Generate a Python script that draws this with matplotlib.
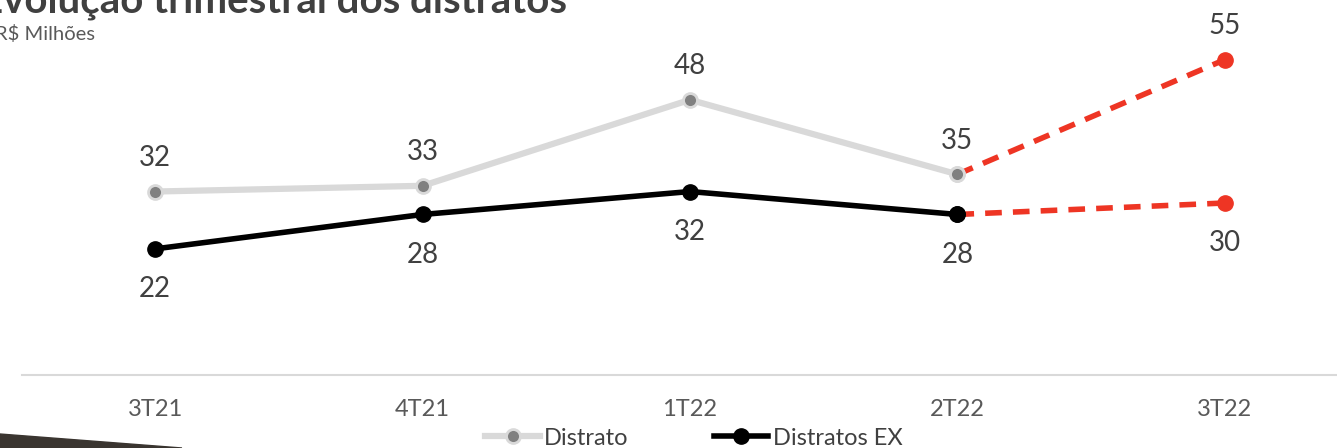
import matplotlib
matplotlib.use('Agg')
import matplotlib.pyplot as plt
from matplotlib.lines import Line2D
from matplotlib.patches import Polygon

plt.rcParams['font.family'] = ['Lato', 'DejaVu Sans']

quarters = ['3T21', '4T21', '1T22', '2T22', '3T22']
distrato = [32, 33, 48, 35, 55]
distrato_ex = [22, 28, 32, 28, 30]

GRAY_LINE = '#d9d9d9'
GRAY_MARK = '#808080'
RED = '#ee3524'
TXT = '#404040'

W, H = 1337, 448
fig = plt.figure(figsize=(W / 100, H / 100), dpi=100)
ax = fig.add_axes([21.5 / W, (H - 375) / H, 1337 / W, 344 / H])

x = list(range(len(quarters)))

# actual part
ax.plot(x[:4], distrato[:4], color=GRAY_LINE, lw=4.5, marker='o', ms=10,
        mfc=GRAY_MARK, mec=GRAY_LINE, mew=2, zorder=3)
ax.plot(x[:4], distrato_ex[:4], color='black', lw=4, marker='o', ms=11,
        mfc='black', mec='black', zorder=3)
# forecast part
ax.plot(x[3:], distrato[3:], color=RED, lw=4, ls=(0, (3, 2)), zorder=2)
ax.plot(x[3:], distrato_ex[3:], color=RED, lw=4, ls=(0, (3, 2)), zorder=2)
ax.plot(x[4], distrato[4], 'o', color=RED, ms=11, zorder=3)
ax.plot(x[4], distrato_ex[4], 'o', color=RED, ms=11, zorder=3)
# re-draw 2T22 markers over the red line
ax.plot(x[3], distrato[3], 'o', ms=10, mfc=GRAY_MARK, mec=GRAY_LINE, mew=2, zorder=4)
ax.plot(x[3], distrato_ex[3], 'o', ms=11, color='black', zorder=4)

for i in x:
    ax.annotate(f'{distrato[i]}', (i, distrato[i]), xytext=(0, 24), textcoords='offset points',
                ha='center', va='center', fontsize=20, color=TXT)
    ax.annotate(f'{distrato_ex[i]}', (i, distrato_ex[i]), xytext=(0, -29), textcoords='offset points',
                ha='center', va='center', fontsize=20, color=TXT)

ax.set_xlim(-0.5, 4.5)
ax.set_ylim(0, 60)
ax.set_xticks(x)
ax.set_xticklabels(quarters, fontsize=17, color='#595959')
ax.tick_params(axis='x', length=0, pad=17)
ax.set_yticks([])
for s in ['top', 'left', 'right']:
    ax.spines[s].set_visible(False)
ax.spines['bottom'].set_color(GRAY_LINE)
ax.spines['bottom'].set_linewidth(1.5)

handles = [
    Line2D([], [], color=GRAY_LINE, lw=4.5, marker='o', ms=10, mfc=GRAY_MARK, mec=GRAY_LINE, mew=2),
    Line2D([], [], color='black', lw=4, marker='o', ms=11),
]
leg = fig.legend(handles, ['Distrato', 'Distratos EX'], loc='center',
                 bbox_to_anchor=(694 / W, 1 - 438 / H), ncol=2, frameon=False,
                 fontsize=17, handlelength=2.3, handletextpad=0.2, columnspacing=3.6,
                 borderpad=0)
for t in leg.get_texts():
    t.set_color(TXT)

fig.text(-20 / W, 1 - 13 / H, 'Evolução trimestral dos distratos', fontsize=29,
         fontweight='bold', color=TXT, ha='left', va='baseline')
fig.text(-5 / W, 1 - 34 / H, 'R$ Milhões', fontsize=14.5, color='#595959',
         ha='left', va='center')

fig.patches.append(Polygon([(0, 1 - 434 / H), (182 / W, 0), (0, 0)], closed=True,
                           transform=fig.transFigure, color='#3a3530', zorder=0))

fig.savefig('out.png', dpi=100)
